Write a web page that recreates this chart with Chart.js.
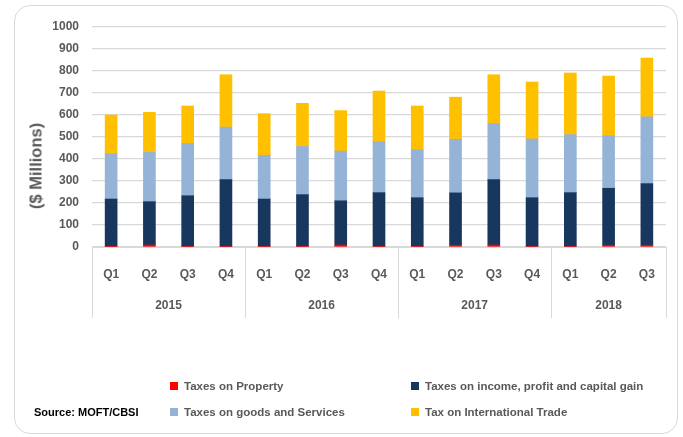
<!DOCTYPE html>
<html>
<head>
<meta charset="utf-8">
<script src="https://cdn.jsdelivr.net/npm/chart.js@4.4.1/dist/chart.umd.min.js"></script>
<style>
  body { margin: 0; background: #fff; }
  #wrap { position: relative; width: 683px; height: 437px; overflow: hidden; }
  #card { position: absolute; left: 14px; top: 5px; width: 662px; height: 427px;
          border: 1.5px solid #d9d9d9; border-radius: 16px; }
  #chartBars { position: absolute; left: 0; top: 0; }
  #yTitle { position: absolute; left: 36px; top: 166px; transform: translate(-50%, -50%) rotate(-90deg);
            white-space: nowrap; font: bold 16.5px "Liberation Sans", Arial, sans-serif; color: #595959; }
  .leg { position: absolute; font: bold 11.5px "Liberation Sans", Arial, sans-serif;
         color: #595959; white-space: nowrap; line-height: 16px; }
  .leg i { position: absolute; left: -14px; top: 4px; width: 8px; height: 8px; }
  #source { position: absolute; left: 34px; top: 404px; font: bold 11px "Liberation Sans", Arial, sans-serif;
            color: #000; white-space: nowrap; line-height: 16px; }
</style>
</head>
<body>
<div id="wrap">
  <div id="card"></div>
  <canvas id="chartBars" width="683" height="437"></canvas>
  <div id="yTitle">($ Millions)</div>
  <div id="legend"></div>
  <div id="source">Source: MOFT/CBSI</div>
</div>
<script>
const quarters = ["Q1", "Q2", "Q3", "Q4", "Q1", "Q2", "Q3", "Q4", "Q1", "Q2", "Q3", "Q4", "Q1", "Q2", "Q3"];
const years = ["2015", "2016", "2017", "2018"];
const quartersPerYear = [4, 4, 4, 3];

const seriesNames = ["Taxes on Property", "Taxes on income, profit and capital gain", "Taxes on goods and Services", "Tax on International Trade"];
const seriesColors = ["#ff0000", "#17375e", "#95b3d7", "#ffc000"];

const property = [3, 9, 3, 3, 3, 3, 9, 3, 3, 8, 9, 3, 3, 8, 8];
const income = [215, 197, 230, 303, 215, 235, 201, 244, 221, 238, 297, 221, 244, 259, 280];
const goods = [206, 224, 238, 239, 199, 219, 226, 232, 218, 244, 255, 267, 264, 239, 304];
const international = [176, 182, 170, 238, 189, 196, 184, 230, 199, 191, 222, 259, 280, 271, 267];

const yTicks = [0, 100, 200, 300, 400, 500, 600, 700, 800, 900, 1000];

const fontFamily = '"Liberation Sans", Arial, sans-serif';
const gridColor = "#d9d9d9";
const textColor = "#595959";

// year groups under the quarter labels
const yearGroups = {
    id: "yearGroups",
    afterDraw(chart) {
        const ctx = chart.ctx;
        const x = chart.scales.x;
        const area = chart.chartArea;
        const step = x.width / quarters.length;
        ctx.save();
        ctx.strokeStyle = gridColor;
        ctx.lineWidth = 1;
        ctx.fillStyle = textColor;
        ctx.font = "bold 12px " + fontFamily;
        ctx.textAlign = "center";
        ctx.textBaseline = "middle";
        let idx = 0;
        years.forEach((year, i) => {
            const left = x.getPixelForValue(idx) - step / 2;
            const right = x.getPixelForValue(idx + quartersPerYear[i] - 1) + step / 2;
            ctx.beginPath();
            ctx.moveTo(Math.round(left) + 0.5, area.bottom);
            ctx.lineTo(Math.round(left) + 0.5, area.bottom + 71);
            if (i === years.length - 1) {
                ctx.moveTo(Math.round(right) + 0.5, area.bottom);
                ctx.lineTo(Math.round(right) + 0.5, area.bottom + 71);
            }
            ctx.stroke();
            ctx.fillText(year, (left + right) / 2, area.bottom + 59);
            idx += quartersPerYear[i];
        });
        ctx.restore();
    }
};

const values = [property, income, goods, international];
const datasets = seriesNames.map((name, i) => ({
    label: name,
    data: values[i],
    backgroundColor: seriesColors[i],
    borderWidth: 0,
    barThickness: 12
}));

new Chart(document.getElementById("chartBars"), {
    type: "bar",
    data: { labels: quarters, datasets },
    options: {
        responsive: false,
        animation: false,
        layout: { padding: { left: 0, right: 17, top: 27, bottom: 0 } },
        plugins: { legend: { display: false }, tooltip: { enabled: false } },
        scales: {
            x: {
                stacked: true,
                grid: { display: false },
                border: { color: gridColor },
                ticks: { color: textColor, font: { family: fontFamily, size: 12, weight: "bold" }, padding: 12, maxRotation: 0 },
                afterFit: (scale) => { scale.height = 190; }
            },
            y: {
                stacked: true,
                min: 0,
                max: 1000,
                afterBuildTicks: (scale) => { scale.ticks = yTicks.map(v => ({ value: v })); },
                grid: { color: gridColor, drawTicks: false, lineWidth: 1.3 },
                border: { display: false },
                ticks: {
                    color: textColor,
                    font: { family: fontFamily, size: 12, weight: "bold" },
                    padding: 13,
                    callback: (v) => String(v)
                },
                afterFit: (scale) => { scale.width = 92; }
            }
        }
    },
    plugins: [yearGroups]
});

// legend in two columns like the original
const legendPos = [[184, 378], [425, 378], [184, 404], [425, 404]];
const legend = document.getElementById("legend");
seriesNames.forEach((name, k) => {
    const item = document.createElement("div");
    item.className = "leg";
    item.style.left = legendPos[k][0] + "px";
    item.style.top = legendPos[k][1] + "px";
    item.innerHTML = '<i style="background:' + seriesColors[k] + '"></i>' + name;
    legend.appendChild(item);
});
</script>
</body>
</html>
